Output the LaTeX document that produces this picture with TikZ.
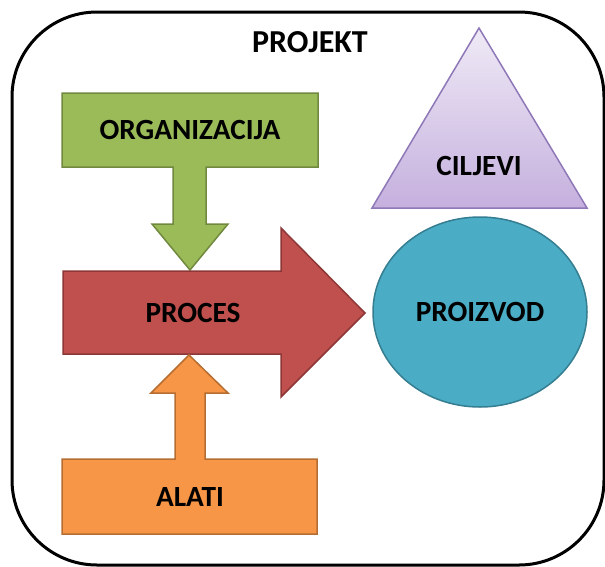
\documentclass[tikz,border=0pt]{standalone}
\usepackage{fontspec}
\setmainfont{Carlito}
\usetikzlibrary{shapes.geometric}

\definecolor{orgfill}{HTML}{9BBB59}
\definecolor{orgline}{HTML}{71893F}
\definecolor{procfill}{HTML}{C0504D}
\definecolor{procline}{HTML}{8C3836}
\definecolor{alatfill}{HTML}{F79646}
\definecolor{alatline}{HTML}{B66D31}
\definecolor{ciljtop}{HTML}{EFEAF6}
\definecolor{ciljbot}{HTML}{C5B0DE}
\definecolor{ciljline}{HTML}{8F78B8}
\definecolor{proizfill}{HTML}{4BACC6}
\definecolor{proizline}{HTML}{357D91}

\tikzset{
  label text/.style={font=\bfseries\fontsize{29.3}{34}\selectfont, inner sep=0pt},
  block/.style={line width=1.5pt, line join=miter}
}

\begin{document}
\begin{tikzpicture}[x=1pt,y=-1pt]

      \useasboundingbox (0,0) rectangle (605,566);

      % Frame
      \draw[line width=3pt, rounded corners=85pt] (12,12) rectangle (604,565);

      % Shapes
      \filldraw[block, fill=orgfill, draw=orgline]
        (62,93) -- (318,93) -- (318,167) -- (206,167) -- (206,224) -- (228,224)
        -- (190,270) -- (152,224) -- (173,224) -- (173,167) -- (62,167) -- cycle;

      \filldraw[block, fill=procfill, draw=procline]
        (63,271) -- (281,271) -- (281,228) -- (365,313) -- (281,397)
        -- (281,354) -- (63,354) -- cycle;

      \filldraw[block, fill=alatfill, draw=alatline]
        (189,355) -- (228,393) -- (205,393) -- (205,459) -- (317,459) -- (317,534)
        -- (62,534) -- (62,459) -- (175,459) -- (175,393) -- (151,393) -- cycle;

      \draw[block, draw=ciljline, top color=ciljtop, bottom color=ciljbot]
        (479,28) -- (587,208) -- (372,208) -- cycle;

      % Nodes
      \begin{scope}[every node/.style={label text}]
        \node[font=\bfseries\fontsize{32}{36}\selectfont] (projekt) at (310,42) {PROJEKT};
        \node (organizacija) at (190,130) {ORGANIZACIJA};
        \node (proces) at (193,313) {PROCES};
        \node (alati) at (190,497) {ALATI};
        \node (ciljevi) at (479,166) {CILJEVI};
        \node[ellipse, block, fill=proizfill, draw=proizline,
              minimum width=214pt, minimum height=190pt] (proizvod) at (480,312) {PROIZVOD};
      \end{scope}

    \end{tikzpicture}
\end{document}
